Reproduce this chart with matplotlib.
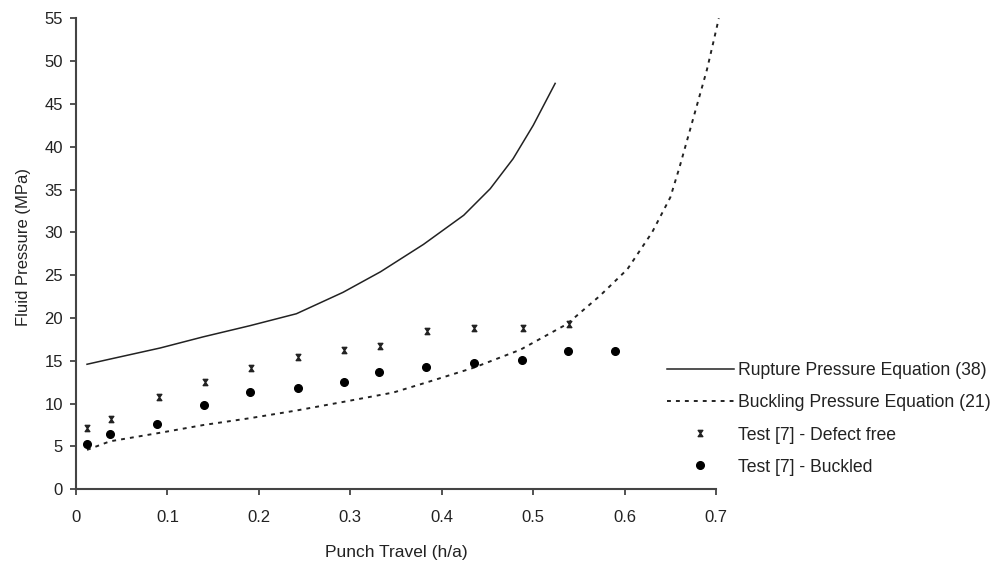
import numpy as np
import matplotlib
matplotlib.use('Agg')
import matplotlib.pyplot as plt
from matplotlib.path import Path

plt.rcParams['font.family'] = ['Liberation Sans', 'DejaVu Sans']
plt.rcParams['font.size'] = 12

# curves
rupture_x = [0.012, 0.037, 0.092, 0.139, 0.19, 0.241, 0.292, 0.333, 0.38,
             0.424, 0.453, 0.478, 0.50, 0.524]
rupture_y = [14.6, 15.2, 16.5, 17.8, 19.1, 20.5, 23.0, 25.4, 28.6,
             32.0, 35.1, 38.6, 42.5, 47.4]

buckling_x = [0.012, 0.037, 0.092, 0.139, 0.19, 0.241, 0.292, 0.347, 0.384,
              0.435, 0.486, 0.537, 0.573, 0.603, 0.63, 0.65, 0.66, 0.67,
              0.68, 0.69, 0.697, 0.703]
buckling_y = [4.6, 5.6, 6.6, 7.5, 8.3, 9.2, 10.2, 11.3, 12.5,
              14.2, 16.3, 19.3, 22.6, 25.7, 30.0, 34.1, 37.6, 41.4,
              45.2, 49.0, 52.2, 55.0]

# test points
defect_x = [0.0124, 0.038, 0.0905, 0.1408, 0.191, 0.243, 0.2936, 0.332,
            0.384, 0.435, 0.489, 0.539]
defect_y = [7.1, 8.2, 10.8, 12.5, 14.2, 15.5, 16.3, 16.7, 18.5, 18.8, 18.8, 19.3]

buckled_x = [0.0124, 0.037, 0.089, 0.14, 0.19, 0.2425, 0.293, 0.331, 0.383,
             0.4355, 0.488, 0.538, 0.589]
buckled_y = [5.3, 6.4, 7.6, 9.9, 11.4, 11.8, 12.5, 13.7, 14.3, 14.7, 15.1, 16.1, 16.1]

xticks = [0, 0.1, 0.2, 0.3, 0.4, 0.5, 0.6, 0.7]
xtick_labels = ['0', '0.1', '0.2', '0.3', '0.4', '0.5', '0.6', '0.7']
yticks = list(range(0, 56, 5))

# hourglass marker like the excel one
hourglass = Path([(-0.75, 1), (0.75, 1), (0, 0), (0.75, -1), (-0.75, -1), (0, 0), (-0.75, 1)],
                 [Path.MOVETO] + [Path.LINETO] * 5 + [Path.CLOSEPOLY])

ink = '#222222'
fig = plt.figure(figsize=(9.94, 5.65), dpi=100)
ax = fig.add_axes([0.0765, 0.134, 0.6439, 0.8336])

ax.plot(rupture_x, rupture_y, '-', color=ink, lw=1.1,
        label='Rupture Pressure Equation (38)')
ax.plot(buckling_x, buckling_y, color=ink, lw=1.4, dashes=(2.0, 2.6),
        clip_on=False, label='Buckling Pressure Equation (21)')
ax.plot(defect_x, defect_y, ls='none', marker=hourglass, ms=4.5, color=ink,
        label='Test [7] - Defect free')
ax.plot(buckled_x, buckled_y, ls='none', marker='o', ms=5.5, color='black',
        label='Test [7] - Buckled')

ax.set_xlim(0, 0.7)
ax.set_ylim(0, 55)
ax.set_xticks(xticks)
ax.set_xticklabels(xtick_labels)
ax.set_yticks(yticks)
for s in ['top', 'right']:
    ax.spines[s].set_visible(False)
for s in ['left', 'bottom']:
    ax.spines[s].set_color('#444444')
    ax.spines[s].set_linewidth(1.5)
ax.tick_params(direction='out', length=4.5, width=1.3, color='#444444',
               labelcolor=ink, labelsize=12)
ax.tick_params(axis='y', pad=5)
ax.tick_params(axis='x', pad=10.5)

ax.set_xlabel('Punch Travel (h/a)', color=ink, fontsize=12.5, labelpad=14)
ax.set_ylabel('Fluid Pressure (MPa)', color=ink)
ax.yaxis.set_label_coords(-0.070, 0.514)

ax.legend(loc='upper left', bbox_to_anchor=(0.671, 0.359),
          bbox_transform=fig.transFigure, frameon=False, borderpad=0,
          borderaxespad=0, handlelength=3.8, handletextpad=0.2,
          labelspacing=0.86, numpoints=1, labelcolor=ink, fontsize=12.7)

plt.savefig('out.png', dpi=100)
